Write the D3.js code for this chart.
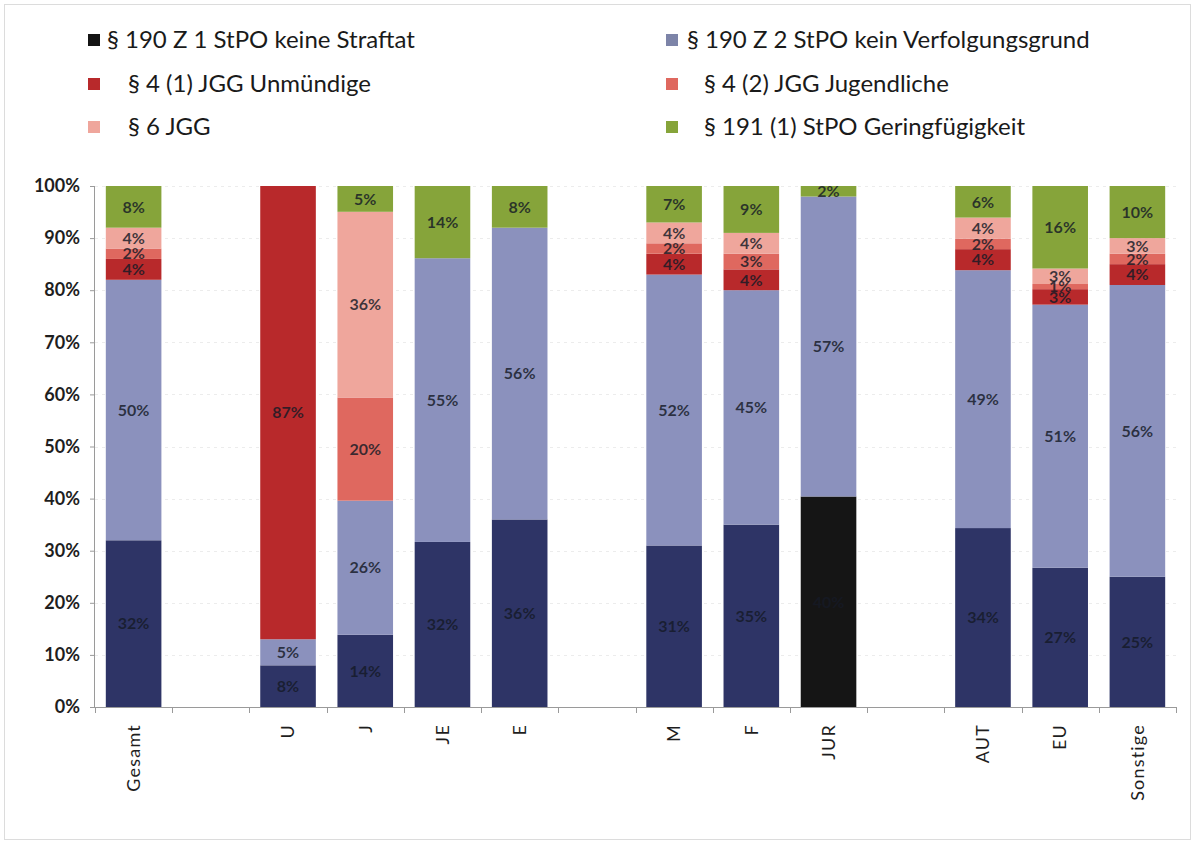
<!DOCTYPE html>
<html>
<head>
<meta charset="utf-8">
<script src="https://cdn.jsdelivr.net/npm/d3@7"></script>
<style>
  html, body { margin: 0; padding: 0; background: #fff; }
  svg { display: block; font-family: Lato, "Open Sans", sans-serif; }
</style>
</head>
<body>
<svg id="chart" width="1195" height="844"></svg>
<script>
// Categories (empty strings are spacer columns between the groups)
const categories = ["Gesamt", "", "U", "J", "JE", "E", "", "M", "F", "JUR", "", "AUT", "EU", "Sonstige"];

// Shares in percent per category, one array per reason for termination
const keineStraftat        = [32, 0,  8, 14, 32, 36, 0, 31, 35, 40, 0, 34, 27, 25];
const keinVerfolgungsgrund = [50, 0,  5, 26, 55, 56, 0, 52, 45, 57, 0, 49, 51, 56];
const unmuendige           = [ 4, 0, 87,  0,  0,  0, 0,  4,  4,  0, 0,  4,  3,  4];
const jugendliche          = [ 2, 0,  0, 20,  0,  0, 0,  2,  3,  0, 0,  2,  1,  2];
const jgg6                 = [ 4, 0,  0, 36,  0,  0, 0,  4,  4,  0, 0,  4,  3,  3];
const geringfuegigkeit     = [ 8, 0,  0,  5, 14,  8, 0,  7,  9,  2, 0,  6, 16, 10];

const seriesNames = [
  "§ 190 Z 1 StPO keine Straftat",
  "§ 190 Z 2 StPO kein Verfolgungsgrund",
  "§ 4 (1) JGG Unmündige",
  "§ 4 (2) JGG Jugendliche",
  "§ 6 JGG",
  "§ 191 (1) StPO Geringfügigkeit"
];
const yTicks = [0, 0.1, 0.2, 0.3, 0.4, 0.5, 0.6, 0.7, 0.8, 0.9, 1.0];

const seriesValues = [keineStraftat, keinVerfolgungsgrund, unmuendige, jugendliche, jgg6, geringfuegigkeit];
const colors = ["#2e3466", "#8b91bd", "#b8292b", "#df685f", "#efa69c", "#86a43a"];

// Row table for d3.stack
const keys = d3.range(seriesNames.length);
const rows = categories.map((c, i) => {
  const r = { idx: i, name: c };
  keys.forEach(k => r[k] = seriesValues[k][i]);
  return r;
});

const svg = d3.select("#chart");
const W = 1195, H = 844;

// light frame around the chart
svg.append("rect").attr("x", 4.5).attr("y", 4.5).attr("width", W - 9).attr("height", H - 9)
  .attr("fill", "none").attr("stroke", "#dcdcdc");

const plot = { left: 95, right: 1176, top: 186, bottom: 707 };

const x = d3.scaleBand().domain(d3.range(categories.length))
  .range([plot.left, plot.right]).paddingInner(0.28).paddingOuter(0.14);
const y = d3.scaleLinear().domain([0, 1]).range([plot.bottom, plot.top]);

// 100 % stacked columns
const stacked = d3.stack().keys(keys).offset(d3.stackOffsetExpand)(rows);

// faint horizontal gridlines
svg.append("g").selectAll("line").data(yTicks.slice(1)).join("line")
  .attr("x1", plot.left).attr("x2", plot.right)
  .attr("y1", d => Math.round(y(d)) + 0.5).attr("y2", d => Math.round(y(d)) + 0.5)
  .attr("stroke", "#ececec").attr("stroke-dasharray", "3,4");

const layers = svg.append("g").selectAll("g").data(stacked).join("g")
  .attr("fill", d => colors[d.key]);

layers.selectAll("rect").data(d => d.filter(p => p.data[d.key] > 0)).join("rect")
  .attr("x", p => x(p.data.idx))
  .attr("width", x.bandwidth())
  .attr("y", p => y(p[1]))
  .attr("height", p => y(p[0]) - y(p[1]))
  .attr("fill", (p, i, n) => (p.data.name === "JUR" && d3.select(n[i].parentNode).datum().key === 0) ? "#151515" : null);

// value labels in the middle of each segment
const labelG = svg.append("g");
stacked.forEach(layer => {
  layer.filter(p => p.data[layer.key] > 0).forEach(p => {
    labelG.append("text")
      .attr("x", x(p.data.idx) + x.bandwidth() / 2)
      .attr("y", y((p[0] + p[1]) / 2))
      .attr("dy", "0.36em")
      .attr("text-anchor", "middle")
      .attr("font-size", 16)
      .attr("font-weight", 700)
      .attr("fill", "#151a26")
      .attr("fill-opacity", 0.82)
      .text(p.data[layer.key] + "%");
  });
});

// y axis
const yAxis = d3.axisLeft(y).tickValues(yTicks).tickFormat(d3.format(".0%")).tickSize(5).tickPadding(10);
const gy = svg.append("g").attr("transform", `translate(${plot.left},0)`).call(yAxis);
gy.select(".domain").attr("stroke", "#9a9a9a").attr("d", `M-0.5,${plot.top}V${plot.bottom}`);
gy.selectAll(".tick line").attr("stroke", "#9a9a9a");
gy.selectAll(".tick text").attr("font-size", 18).attr("font-weight", 700).attr("fill", "#1e1e1e")
  .attr("font-family", "Lato, sans-serif");

// x axis: baseline, boundary ticks and rotated category names
const gx = svg.append("g").attr("transform", `translate(0,${plot.bottom})`);
gx.append("line").attr("x1", plot.left).attr("x2", plot.right).attr("y1", 0.5).attr("y2", 0.5)
  .attr("stroke", "#9a9a9a");
const step = x.step();
const bounds = d3.range(categories.length + 1).map(i => plot.left + step * x.paddingOuter() - step * x.paddingInner() / 2 + i * step);
gx.selectAll("line.tk").data(bounds).join("line").attr("class", "tk")
  .attr("x1", d => Math.round(d) + 0.5).attr("x2", d => Math.round(d) + 0.5)
  .attr("y1", 0).attr("y2", 6).attr("stroke", "#9a9a9a");
gx.selectAll("text").data(rows.filter(r => r.name !== "")).join("text")
  .attr("transform", r => `translate(${x(r.idx) + x.bandwidth() / 2},17) rotate(-90)`)
  .attr("text-anchor", "end")
  .attr("dy", "0.35em")
  .attr("font-size", 18)
  .attr("letter-spacing", 1.2)
  .attr("fill", "#1e1e1e")
  .text(r => r.name);

// legend, two columns
const legendPos = [
  { sx: 88, tx: 107, y: 40 },
  { sx: 666, tx: 687, y: 40 },
  { sx: 88, tx: 128, y: 84 },
  { sx: 666, tx: 704, y: 84 },
  { sx: 88, tx: 128, y: 127 },
  { sx: 666, tx: 704, y: 127 }
];
const legendColors = ["#141414", "#7d84a8", "#b8292b", "#df685f", "#efa69c", "#86a43a"];
const lg = svg.append("g");
keys.forEach((k, i) => {
  const p = legendPos[i];
  lg.append("rect").attr("x", p.sx).attr("y", p.y - 6).attr("width", 12).attr("height", 12)
    .attr("fill", legendColors[k]);
  lg.append("text").attr("x", p.tx).attr("y", p.y).attr("dy", "0.35em")
    .attr("font-size", 24).attr("fill", "#1a1a1a").text(seriesNames[k]);
});
</script>
</body>
</html>
